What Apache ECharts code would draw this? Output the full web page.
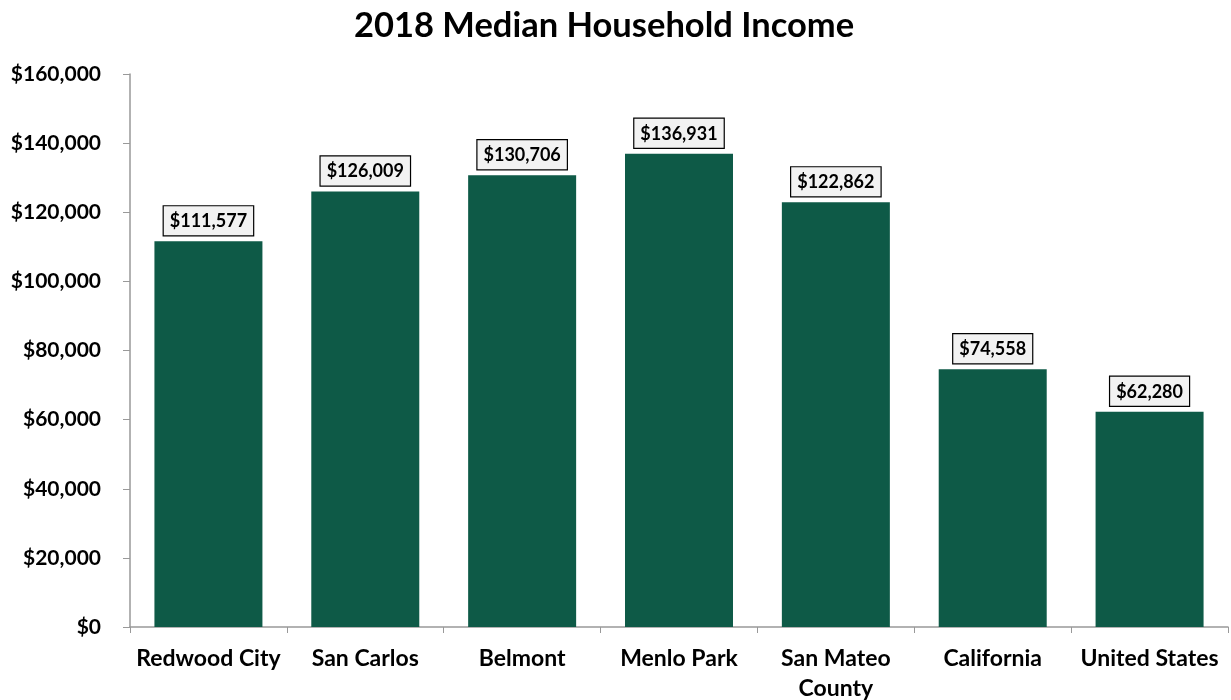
<!DOCTYPE html>
<html>
<head>
<meta charset="utf-8">
<script src="https://cdn.jsdelivr.net/npm/echarts@6/dist/echarts.min.js"></script>
<style>
  html, body { margin: 0; padding: 0; background: #fff; }
  #graphs { width: 1231px; height: 700px; }
</style>
</head>
<body>
<div id="graphs"></div>
<script>
// data
var places = ['Redwood City', 'San Carlos', 'Belmont', 'Menlo Park', 'San Mateo\nCounty', 'California', 'United States'];
var incomes = [111577, 126009, 130706, 136931, 122862, 74558, 62280];
var yTicks = [0, 20000, 40000, 60000, 80000, 100000, 120000, 140000, 160000];

var fontName = 'Lato';
var weight = 'bold';

function money(v) {
    return '$' + v.toLocaleString('en-US');
}

var myChart = echarts.init(document.getElementById('graphs'));

var option = {
    animation: false,
    title: {
        text: '2018 Median Household Income',
        left: 599,
        top: 3,
        textAlign: 'center',
        textStyle: { fontFamily: fontName, fontWeight: weight, fontSize: 34.5, color: '#000' }
    },
    grid: { left: 130, right: 3, top: 74, bottom: 73, outerBoundsMode: 'none' },
    xAxis: {
        type: 'category',
        data: places,
        axisLine: { lineStyle: { color: '#999', width: 1.5 } },
        axisTick: { show: true, length: 6, lineStyle: { color: '#999' } },
        axisLabel: {
            margin: 17, interval: 0,
            fontFamily: fontName, fontWeight: weight, fontSize: 23, color: '#000', lineHeight: 30
        }
    },
    yAxis: {
        type: 'value',
        min: yTicks[0],
        max: yTicks[yTicks.length - 1],
        interval: 20000,
        splitLine: { show: false },
        axisLine: { show: true, lineStyle: { color: '#999', width: 1.5 } },
        axisTick: { show: true, length: 7, lineStyle: { color: '#999' } },
        axisLabel: {
            margin: 29,
            fontFamily: fontName, fontWeight: weight, fontSize: 21, color: '#000',
            formatter: money
        }
    },
    series: [{
        type: 'bar',
        data: incomes,
        barWidth: 108,
        itemStyle: { color: '#0E5A47' },
        label: {
            show: true,
            position: 'top',
            distance: 6,
            formatter: function (p) { return money(p.value); },
            fontFamily: fontName, fontWeight: weight, fontSize: 18, color: '#000',
            backgroundColor: '#f2f2f2',
            borderColor: '#000',
            borderWidth: 1.2,
            padding: [6, 6, 5, 6]
        }
    }]
};

myChart.setOption(option);
</script>
</body>
</html>
